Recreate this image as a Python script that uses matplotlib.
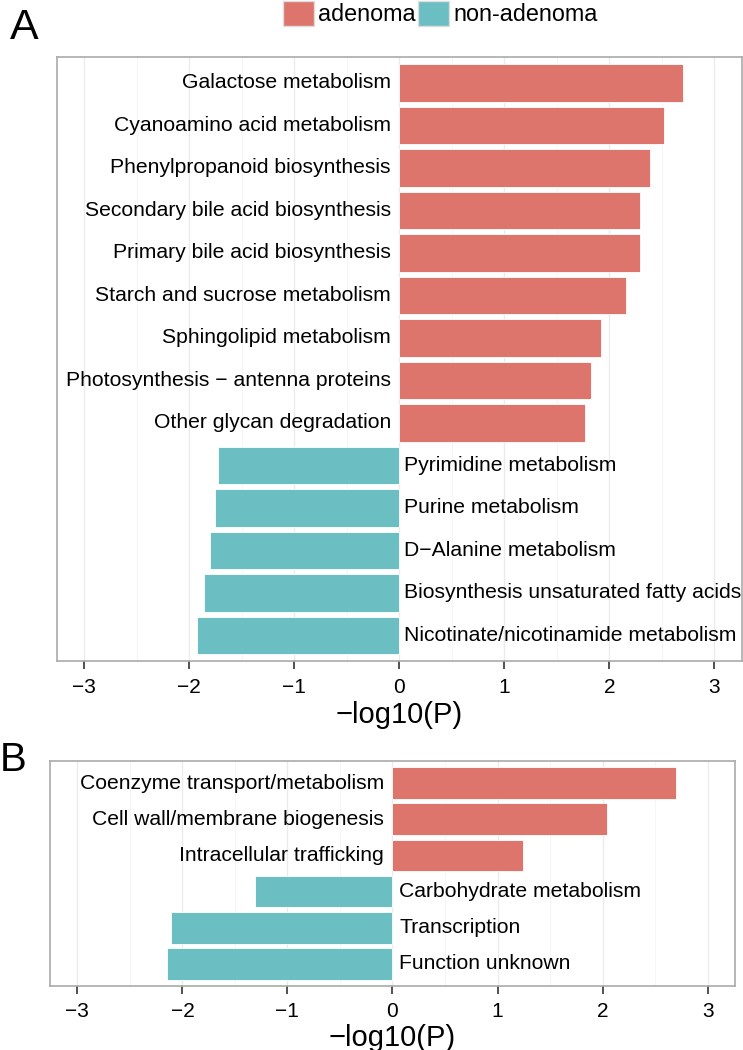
import numpy as np
import matplotlib.pyplot as plt
from matplotlib.patches import Patch
from matplotlib.ticker import MultipleLocator

plt.rcParams['font.family'] = ['Liberation Sans', 'DejaVu Sans']

# 面板A：KEGG通路
kegg_names = ["Galactose metabolism", "Cyanoamino acid metabolism",
              "Phenylpropanoid biosynthesis", "Secondary bile acid biosynthesis",
              "Primary bile acid biosynthesis", "Starch and sucrose metabolism",
              "Sphingolipid metabolism", "Photosynthesis − antenna proteins",
              "Other glycan degradation", "Pyrimidine metabolism",
              "Purine metabolism", "D−Alanine metabolism",
              "Biosynthesis unsaturated fatty acids",
              "Nicotinate/nicotinamide metabolism"]
kegg_vals = [2.70, 2.52, 2.39, 2.29, 2.29, 2.16, 1.92, 1.82, 1.77,
             -1.73, -1.76, -1.80, -1.86, -1.93]

# 面板B：COG功能分类
cog_names = ["Coenzyme transport/metabolism", "Cell wall/membrane biogenesis",
             "Intracellular trafficking", "Carbohydrate metabolism",
             "Transcription", "Function unknown"]
cog_vals = [2.70, 2.04, 1.24, -1.31, -2.11, -2.15]

groups = ["adenoma", "non-adenoma"]
red = "#DD756D"
teal = "#6BBFC3"

fig = plt.figure(figsize=(7.43, 10.5), dpi=100)
axA = fig.add_axes([0.0767, 0.3705, 0.9216, 0.5749])
axB = fig.add_axes([0.0673, 0.0614, 0.9219, 0.2134])


def draw(ax, names, vals, off, lpad):
    y = np.arange(len(names))
    cols = [red if v > 0 else teal for v in vals]
    ax.barh(y, vals, height=0.88, color=cols, edgecolor="white", linewidth=0.6, zorder=2)
    for yi, n, v in zip(y, names, vals):
        if v > 0:
            ax.text(-0.08, yi, n, ha="right", va="center", fontsize=15.2, zorder=3)
        else:
            ax.text(off, yi, n, ha="left", va="center", fontsize=15.2, zorder=3)
    ax.set_xlim(-3.26, 3.26)
    ax.set_ylim(len(names) - 0.4, -0.6)
    ax.set_yticks([])
    ax.xaxis.set_major_locator(MultipleLocator(1))
    ax.xaxis.set_minor_locator(MultipleLocator(0.5))
    ax.grid(axis="x", which="major", color="#ebebeb", linewidth=1.0, zorder=0)
    ax.grid(axis="x", which="minor", color="#f4f4f4", linewidth=0.6, zorder=0)
    ax.set_axisbelow(True)
    ax.tick_params(axis="x", which="major", length=6, width=1.2, color="#333333",
                   labelsize=15, pad=6)
    ax.tick_params(axis="x", which="minor", length=0)
    for s in ax.spines.values():
        s.set_color("#aaaaaa")
        s.set_linewidth(1.2)
    ax.set_xlabel("−log10(P)", fontsize=21, labelpad=lpad)


draw(axA, kegg_names, kegg_vals, 0.04, 3)
draw(axB, cog_names, cog_vals, 0.065, 2)

fig.text(0.013, 0.992, "A", fontsize=31, va="top", ha="left")
fig.text(0.0, 0.294, "B", fontsize=29, va="top", ha="left")

handles = [Patch(facecolor=red, edgecolor="#dddddd", label=groups[0]),
           Patch(facecolor=teal, edgecolor="#dddddd", label=groups[1])]
fig.legend(handles=handles, loc="upper center", bbox_to_anchor=(0.593, 1.008), ncol=2,
           frameon=False, fontsize=16.8, handlelength=1.3, handleheight=1.3,
           handletextpad=0.2, columnspacing=0.1, borderaxespad=0)

fig.savefig("out.png", dpi=100)
